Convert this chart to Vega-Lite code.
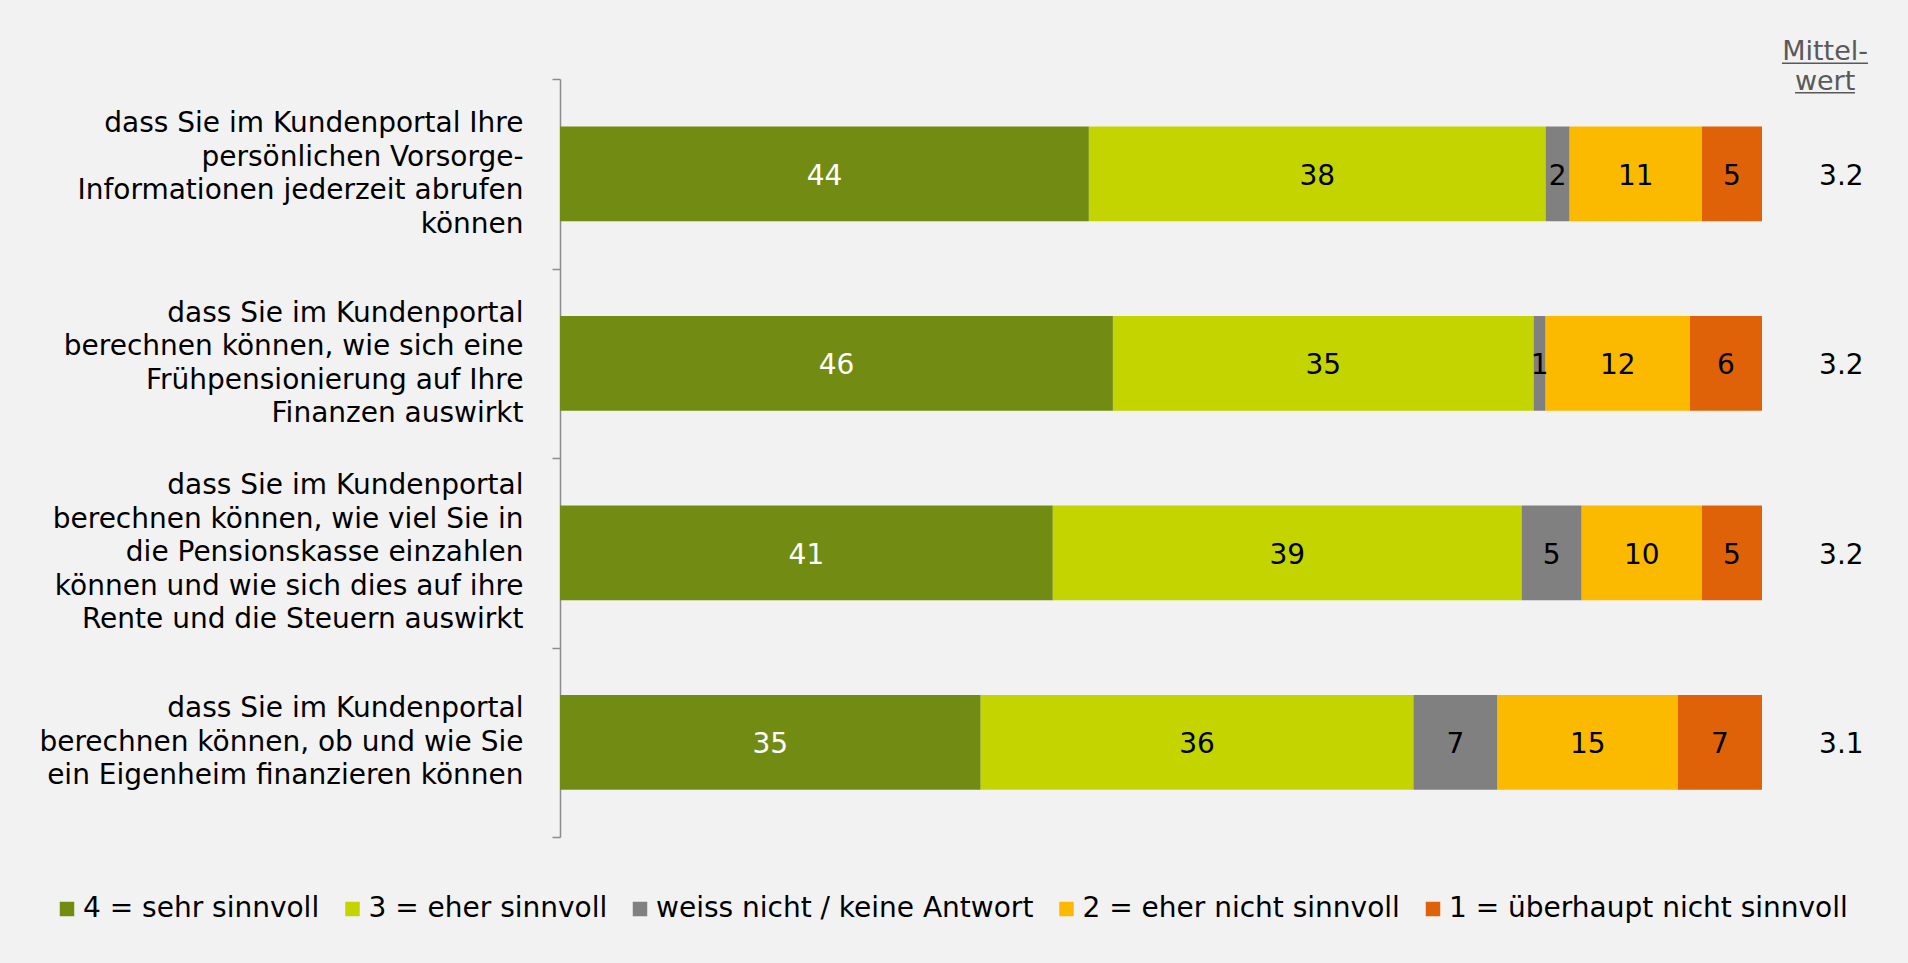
{
  "$schema": "https://vega.github.io/schema/vega-lite/v6.json",
  "width": 1202,
  "height": 758,
  "autosize": {"type": "none"},
  "padding": {"left": 560, "top": 79, "right": 146, "bottom": 126},
  "background": "#f2f2f2",
  "config": {
    "view": {"stroke": null},
    "font": "DejaVu Sans",
    "text": {"font": "DejaVu Sans"}
  },
  "datasets": {
    "bars": [
      {"q": "dass Sie im Kundenportal Ihre|persönlichen Vorsorge-|Informationen jederzeit abrufen|können", "resp": "4 = sehr sinnvoll", "ord": 1, "value": 44},
      {"q": "dass Sie im Kundenportal Ihre|persönlichen Vorsorge-|Informationen jederzeit abrufen|können", "resp": "3 = eher sinnvoll", "ord": 2, "value": 38},
      {"q": "dass Sie im Kundenportal Ihre|persönlichen Vorsorge-|Informationen jederzeit abrufen|können", "resp": "weiss nicht / keine Antwort", "ord": 3, "value": 2},
      {"q": "dass Sie im Kundenportal Ihre|persönlichen Vorsorge-|Informationen jederzeit abrufen|können", "resp": "2 = eher nicht sinnvoll", "ord": 4, "value": 11},
      {"q": "dass Sie im Kundenportal Ihre|persönlichen Vorsorge-|Informationen jederzeit abrufen|können", "resp": "1 = überhaupt nicht sinnvoll", "ord": 5, "value": 5},
      {"q": "dass Sie im Kundenportal|berechnen können, wie sich eine|Frühpensionierung auf Ihre|Finanzen auswirkt", "resp": "4 = sehr sinnvoll", "ord": 1, "value": 46},
      {"q": "dass Sie im Kundenportal|berechnen können, wie sich eine|Frühpensionierung auf Ihre|Finanzen auswirkt", "resp": "3 = eher sinnvoll", "ord": 2, "value": 35},
      {"q": "dass Sie im Kundenportal|berechnen können, wie sich eine|Frühpensionierung auf Ihre|Finanzen auswirkt", "resp": "weiss nicht / keine Antwort", "ord": 3, "value": 1},
      {"q": "dass Sie im Kundenportal|berechnen können, wie sich eine|Frühpensionierung auf Ihre|Finanzen auswirkt", "resp": "2 = eher nicht sinnvoll", "ord": 4, "value": 12},
      {"q": "dass Sie im Kundenportal|berechnen können, wie sich eine|Frühpensionierung auf Ihre|Finanzen auswirkt", "resp": "1 = überhaupt nicht sinnvoll", "ord": 5, "value": 6},
      {"q": "dass Sie im Kundenportal|berechnen können, wie viel Sie in|die Pensionskasse einzahlen|können und wie sich dies auf ihre|Rente und die Steuern auswirkt", "resp": "4 = sehr sinnvoll", "ord": 1, "value": 41},
      {"q": "dass Sie im Kundenportal|berechnen können, wie viel Sie in|die Pensionskasse einzahlen|können und wie sich dies auf ihre|Rente und die Steuern auswirkt", "resp": "3 = eher sinnvoll", "ord": 2, "value": 39},
      {"q": "dass Sie im Kundenportal|berechnen können, wie viel Sie in|die Pensionskasse einzahlen|können und wie sich dies auf ihre|Rente und die Steuern auswirkt", "resp": "weiss nicht / keine Antwort", "ord": 3, "value": 5},
      {"q": "dass Sie im Kundenportal|berechnen können, wie viel Sie in|die Pensionskasse einzahlen|können und wie sich dies auf ihre|Rente und die Steuern auswirkt", "resp": "2 = eher nicht sinnvoll", "ord": 4, "value": 10},
      {"q": "dass Sie im Kundenportal|berechnen können, wie viel Sie in|die Pensionskasse einzahlen|können und wie sich dies auf ihre|Rente und die Steuern auswirkt", "resp": "1 = überhaupt nicht sinnvoll", "ord": 5, "value": 5},
      {"q": "dass Sie im Kundenportal|berechnen können, ob und wie Sie|ein Eigenheim finanzieren können", "resp": "4 = sehr sinnvoll", "ord": 1, "value": 35},
      {"q": "dass Sie im Kundenportal|berechnen können, ob und wie Sie|ein Eigenheim finanzieren können", "resp": "3 = eher sinnvoll", "ord": 2, "value": 36},
      {"q": "dass Sie im Kundenportal|berechnen können, ob und wie Sie|ein Eigenheim finanzieren können", "resp": "weiss nicht / keine Antwort", "ord": 3, "value": 7},
      {"q": "dass Sie im Kundenportal|berechnen können, ob und wie Sie|ein Eigenheim finanzieren können", "resp": "2 = eher nicht sinnvoll", "ord": 4, "value": 15},
      {"q": "dass Sie im Kundenportal|berechnen können, ob und wie Sie|ein Eigenheim finanzieren können", "resp": "1 = überhaupt nicht sinnvoll", "ord": 5, "value": 7}
    ],
    "means": [
      {"q": "dass Sie im Kundenportal Ihre|persönlichen Vorsorge-|Informationen jederzeit abrufen|können", "mean": 3.2},
      {"q": "dass Sie im Kundenportal|berechnen können, wie sich eine|Frühpensionierung auf Ihre|Finanzen auswirkt", "mean": 3.2},
      {"q": "dass Sie im Kundenportal|berechnen können, wie viel Sie in|die Pensionskasse einzahlen|können und wie sich dies auf ihre|Rente und die Steuern auswirkt", "mean": 3.2},
      {"q": "dass Sie im Kundenportal|berechnen können, ob und wie Sie|ein Eigenheim finanzieren können", "mean": 3.1}
    ]
  },
  "layer": [
    {
      "data": {"name": "bars"},
      "mark": {"type": "bar", "height": {"band": 0.5}},
      "encoding": {
        "y": {
          "field": "q", "type": "nominal", "sort": null,
          "scale": {"paddingInner": 0, "paddingOuter": 0},
          "axis": {
            "title": null,
            "labelExpr": "split(datum.label, '|')",
            "labelFontSize": 28,
            "labelLineHeight": 33.5,
            "labelColor": "#000000",
            "labelAlign": "right",
            "labelBaseline": "middle",
            "labelLimit": 700,
            "labelPadding": 29,
            "labelOffset": {
              "condition": [
                {"test": "indexof(datum.label, 'Steuern') >= 0", "value": -67},
                {"test": "indexof(datum.label, 'Eigenheim') >= 0", "value": -33.5}
              ],
              "value": -50.25
            },
            "tickBand": "extent",
            "tickSize": 8,
            "tickColor": "#8c8c8c",
            "domainColor": "#8c8c8c",
            "tickWidth": 1.5,
            "domainWidth": 1.5,
            "grid": false
          }
        },
        "x": {
          "field": "value", "type": "quantitative", "stack": "zero",
          "scale": {"domain": [0, 100], "nice": false},
          "axis": null
        },
        "order": {"field": "ord", "type": "quantitative"},
        "color": {
          "field": "resp", "type": "nominal",
          "scale": {
            "domain": ["4 = sehr sinnvoll", "3 = eher sinnvoll", "weiss nicht / keine Antwort", "2 = eher nicht sinnvoll", "1 = überhaupt nicht sinnvoll"],
            "range": ["#728c13", "#c3d400", "#808080", "#fbba00", "#e06208"]
          },
          "legend": {
            "title": null,
            "orient": "none",
            "direction": "horizontal",
            "columns": 5,
            "legendX": -507,
            "legendY": 816,
            "padding": 0,
            "labelFontSize": 28,
            "labelColor": "#000000",
            "labelLimit": 700,
            "labelOffset": 2,
            "columnPadding": 18.5,
            "symbolType": "square",
            "symbolSize": 210,
            "symbolStrokeWidth": 0,
            "symbolOpacity": 1
          }
        }
      }
    },
    {
      "data": {"name": "bars"},
      "transform": [
        {"stack": "value", "groupby": ["q"], "sort": [{"field": "ord", "order": "ascending"}], "as": ["x0", "x1"]},
        {"fold": ["x0", "x1"], "as": ["edgeName", "edge"]},
        {"aggregate": [{"op": "mean", "field": "edge", "as": "mid"}], "groupby": ["q", "resp", "value"]}
      ],
      "mark": {"type": "text", "fontSize": 28, "baseline": "middle", "align": "center", "dy": 3},
      "encoding": {
        "y": {"field": "q", "type": "nominal", "sort": null},
        "x": {"field": "mid", "type": "quantitative"},
        "text": {"field": "value", "type": "quantitative"},
        "color": {
          "condition": {"test": "datum.resp === '4 = sehr sinnvoll'", "value": "#ffffff"},
          "value": "#000000"
        }
      }
    },
    {
      "data": {"name": "means"},
      "mark": {"type": "text", "fontSize": 28, "baseline": "middle", "align": "center", "color": "#000000", "dy": 3},
      "encoding": {
        "y": {"field": "q", "type": "nominal", "sort": null},
        "x": {"datum": 106.6},
        "text": {"field": "mean", "type": "quantitative", "format": ".1f"}
      }
    },
    {
      "data": {"values": [{"h": "Mittelwert"}]},
      "mark": {"type": "text", "text": ["Mittel-", "wert"], "fontSize": 27, "lineHeight": 30, "baseline": "middle", "align": "center", "color": "#595959", "yOffset": -121.5},
      "encoding": {
        "y": {"datum": "dass Sie im Kundenportal Ihre|persönlichen Vorsorge-|Informationen jederzeit abrufen|können"},
        "x": {"datum": 105.25}
      }
    },
    {
      "data": {"values": [{"x1": 101.66, "x2": 108.82, "off": 1}, {"x1": 102.75, "x2": 107.74, "off": 2}]},
      "transform": [{"filter": "datum.off === 1"}],
      "mark": {"type": "rule", "color": "#595959", "strokeWidth": 1.5, "yOffset": -110.5},
      "encoding": {
        "y": {"datum": "dass Sie im Kundenportal Ihre|persönlichen Vorsorge-|Informationen jederzeit abrufen|können"},
        "x": {"field": "x1", "type": "quantitative"},
        "x2": {"field": "x2"}
      }
    },
    {
      "data": {"values": [{"x1": 101.66, "x2": 108.82, "off": 1}, {"x1": 102.75, "x2": 107.74, "off": 2}]},
      "transform": [{"filter": "datum.off === 2"}],
      "mark": {"type": "rule", "color": "#595959", "strokeWidth": 1.5, "yOffset": -81},
      "encoding": {
        "y": {"datum": "dass Sie im Kundenportal Ihre|persönlichen Vorsorge-|Informationen jederzeit abrufen|können"},
        "x": {"field": "x1", "type": "quantitative"},
        "x2": {"field": "x2"}
      }
    }
  ]
}
